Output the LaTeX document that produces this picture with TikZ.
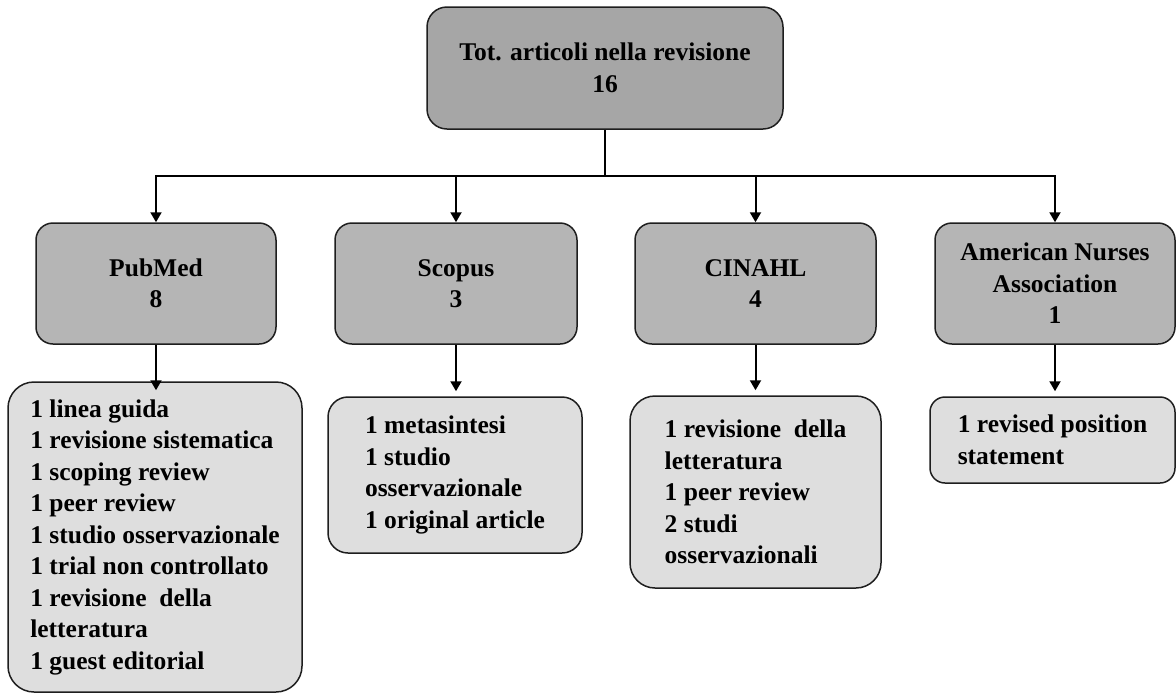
\documentclass[tikz,border=0pt]{standalone}
\usepackage{fontspec}
\setmainfont{Liberation Serif}
\usetikzlibrary{arrows.meta}
\definecolor{gTop}{RGB}{166,166,166}
\definecolor{gMid}{RGB}{181,181,181}
\definecolor{gLow}{RGB}{222,222,222}
\definecolor{edge}{RGB}{30,30,30}
\begin{document}
\begin{tikzpicture}[x=1pt,y=-1pt,
  every node/.style={font=\fontsize{25.5}{31.5}\selectfont\bfseries, inner sep=0pt},
  topbox/.style={draw=edge, line width=1.5pt, fill=gTop, rounded corners=20pt, align=center},
  midbox/.style={draw=edge, line width=1.5pt, fill=gMid, rounded corners=17pt, align=center, minimum height=121pt},
  lowbox/.style={draw=edge, line width=1.5pt, fill=gLow, align=left},
  conn/.style={line width=2pt, black},
  arr/.style={conn, -{Triangle[length=10pt,width=11pt]}}
]
\useasboundingbox (0,0) rectangle (1176,694);

\node[topbox, minimum width=356pt, minimum height=122pt] (top) at (605,68) {Tot. articoli nella revisione\\16};

\node[midbox, minimum width=240pt] (pub) at (156,283.5) {PubMed\\8};
\node[midbox, minimum width=242pt] (sco) at (456,283.5) {Scopus\\3};
\node[midbox, minimum width=241pt] (cin) at (755.5,283.5) {CINAHL\\4};
\node[midbox, minimum width=240pt] (ana) at (1055,283.5) {American Nurses\\Association\\1};

\node[lowbox, rounded corners=26pt, minimum width=294pt, minimum height=310pt] (pubd) at (155,537)
  {1 linea guida\\1 revisione sistematica\\1 scoping review\\1 peer review\\1 studio osservazionale\\1 trial non controllato\\1 revisione\ \ della\\letteratura\\1 guest editorial};
\node[lowbox, rounded corners=20pt, minimum width=254pt, minimum height=156pt] (scod) at (455,475)
  {1 metasintesi\\1 studio\\osservazionale\\1 original article};
\node[lowbox, rounded corners=25pt, minimum width=251pt, minimum height=192pt] (cind) at (755.5,492)
  {1 revisione\ \ della\\letteratura\\1 peer review\\2 studi\\osservazionali};
\node[lowbox, rounded corners=15pt, minimum width=245pt, minimum height=86pt] (anad) at (1052.5,440)
  {1 revised\ position\\statement};

\coordinate (bar) at (605,176);
\draw[conn] (top.south) -- (bar);
\draw[arr] (bar) -| (pub.north);
\draw[arr] (bar) -| (sco.north);
\draw[arr] (bar) -| (cin.north);
\draw[arr] (bar) -| (ana.north);

\draw[arr, shorten >=-9pt] (pub.south) -- (pub.south |- pubd.north);
\draw[arr, shorten >=5pt] (sco.south) -- (sco.south |- scod.north);
\draw[arr, shorten >=5pt] (cin.south) -- (cin.south |- cind.north);
\draw[arr, shorten >=5pt] (ana.south) -- (ana.south |- anad.north);
\end{tikzpicture}
\end{document}
